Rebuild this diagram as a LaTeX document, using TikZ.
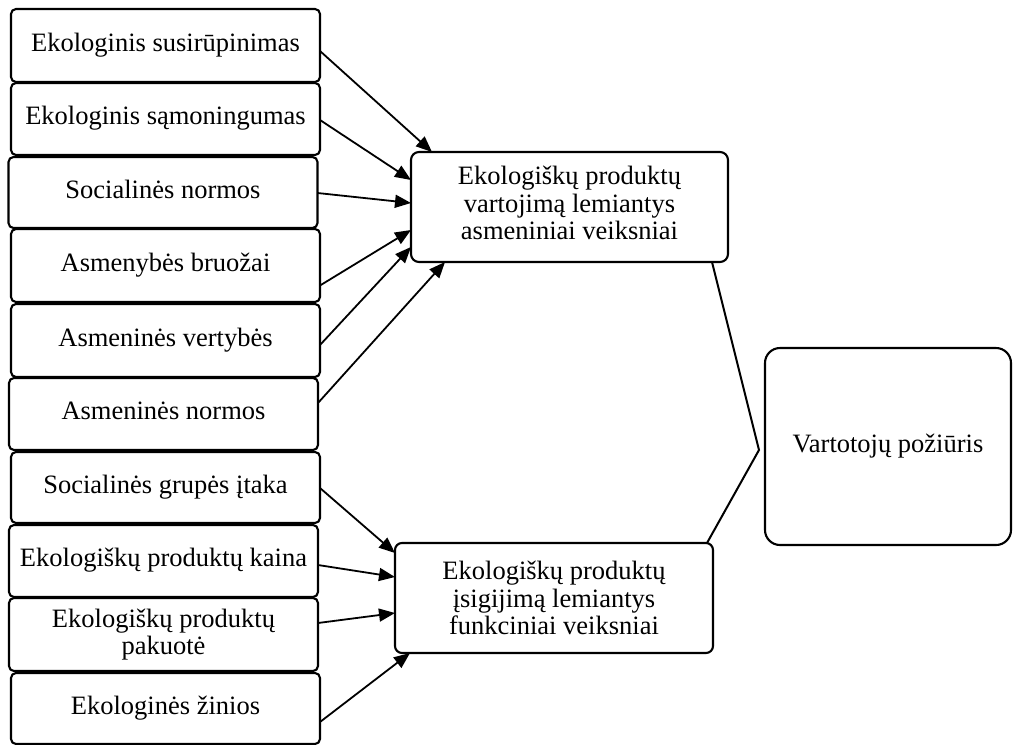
\documentclass[tikz,border=0pt]{standalone}
\usepackage{fontspec}
\setmainfont{Liberation Serif}
\usetikzlibrary{arrows.meta,calc}
\begin{document}
\begin{tikzpicture}[x=1pt,y=-1pt,
  box/.style={draw, line width=2.1pt, rounded corners=5pt, inner sep=0pt,
    outer sep=0pt, font=\fontsize{26.5}{27.5}\selectfont},
  single/.style={text height=18pt, text depth=6.5pt},
  multi/.style={align=center},
  factor/.style={box, minimum width=309pt, minimum height=72pt},
  group/.style={box, rounded corners=8pt},
  link/.style={line width=1.8pt, -{Triangle[length=16pt,width=13pt]}},
  joinline/.style={line width=2pt}]
\useasboundingbox (0,0) rectangle (1013,745);

% factors on the left
\node[factor,single,minimum height=73pt] (f1) at (165.5,45.5) {Ekologinis susirūpinimas};
\node[factor,single] (f2) at (165.5,119) {Ekologinis sąmoningumas};
\node[factor,single,minimum height=71pt] (f3) at (163,192.5) {Socialinės normos};
\node[factor,single,minimum height=73pt] (f4) at (165.5,265.5) {Asmenybės bruožai};
\node[factor,single,minimum height=73pt] (f5) at (165.5,340.5) {Asmeninės vertybės};
\node[factor,single] (f6) at (163.5,414) {Asmeninės normos};
\node[factor,single,minimum height=71pt] (f7) at (165.5,487.5) {Socialinės grupės įtaka};
\node[factor,single] (f8) at (163.5,561) {Ekologiškų produktų kaina};
\node[factor,multi,minimum height=73pt] (f9) at (163.5,634.5) {Ekologiškų produktų\\pakuotė};
\node[factor,single,minimum height=71pt] (f10) at (165.5,708.5) {Ekologinės žinios};

% grouping boxes (the strut on the last line lifts the text a little)
\node[group,multi,minimum width=317pt,minimum height=110pt] (A) at (569.5,207)
  {Ekologiškų produktų\\vartojimą lemiantys\\asmeniniai veiksniai\rule[-8pt]{0pt}{8pt}};
\node[group,multi,rounded corners=7pt,minimum width=318pt,minimum height=110pt] (B) at (554,598)
  {Ekologiškų produktų\\įsigijimą lemiantys\\funkciniai veiksniai};

% result
\node[box,single,rounded corners=15pt,minimum width=246pt,minimum height=197pt] (C) at (888,446.5)
  {Vartotojų požiūris};

% arrows into the personal factors box
\draw[link] ($(f1.east)+(0,5.5)$) -- ($(A.north west)+(21,0)$);
\draw[link] ($(f2.east)+(0,1)$) -- ($(A.west)+(0,-27)$);
\draw[link] ($(f3.east)+(0,0.5)$) -- ($(A.west)+(0,-4)$);
\draw[link] ($(f4.east)+(0,20)$) -- ($(A.west)+(0,23)$);
\draw[link] ($(f5.east)+(0,4.5)$) -- ($(A.west)+(0,40)$);
\draw[link] ($(f6.east)+(0,-11)$) -- ($(A.south west)+(34,0)$);

% arrows into the functional factors box
\draw[link] ($(f7.east)+(0,0.5)$) -- ($(B.north west)+(0,10)$);
\draw[link] ($(f8.east)+(0,4)$) -- ($(B.west)+(0,-21)$);
\draw[link] ($(f9.east)+(0,-11.5)$) -- ($(B.west)+(0,15)$);
\draw[link] ($(f10.east)+(0,13.5)$) -- ($(B.south west)+(15,0)$);

% both groups lead to the attitude box
\coordinate (j) at ($(C.west)+(-6,3.5)$);
\draw[joinline] ($(A.south east)+(-16,0)$) -- (j) -- ($(B.north east)+(-6,0)$);
\end{tikzpicture}
\end{document}
